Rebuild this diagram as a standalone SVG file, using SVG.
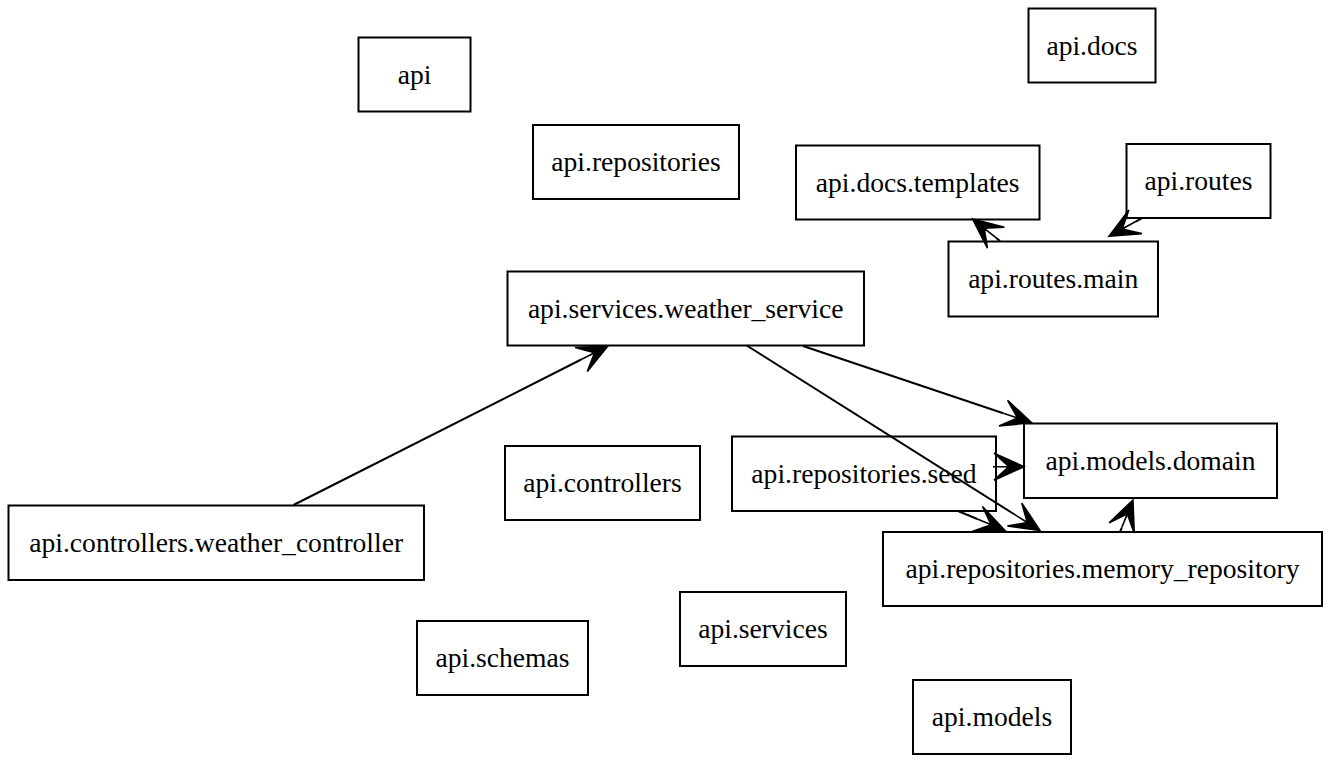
<svg xmlns="http://www.w3.org/2000/svg" width="1331" height="763" viewBox="0 0 1331 763">
<style>
.n rect{fill:#fff;stroke:#000;stroke-width:2}
.n text{font-family:'Liberation Serif','Times New Roman',serif;font-size:27.6px;text-anchor:middle;fill:#000}
.e path{fill:none;stroke:#000;stroke-width:2}
</style>
<defs>
<marker id="vee" markerUnits="userSpaceOnUse" viewBox="-1 -16 34 32" refX="0" refY="0" markerWidth="34" markerHeight="32" orient="auto" overflow="visible">
<path d="M30,0 L0,-13.5 L15,0 L0,13.5 Z M15,0 L0,0" fill="#000" stroke="#000" stroke-width="1.6" stroke-linejoin="miter"/>
</marker>
</defs>
<rect width="1331" height="763" fill="#fff"/>
<g id="api" class="n"><rect x="358.5" y="37.5" width="112" height="74"/><text x="414.5" y="83.5">api</text></g>
<g id="api.docs" class="n"><rect x="1028.5" y="8.5" width="127" height="74"/><text x="1092" y="54.5">api.docs</text></g>
<g id="api.repositories" class="n"><rect x="533" y="125" width="206" height="74"/><text x="636" y="171">api.repositories</text></g>
<g id="api.docs.templates" class="n"><rect x="796" y="145.5" width="243.5" height="74"/><text x="917.7" y="191.5">api.docs.templates</text></g>
<g id="api.routes" class="n"><rect x="1126.5" y="144" width="144" height="74"/><text x="1198.5" y="190">api.routes</text></g>
<g id="api.routes.main" class="n"><rect x="948.5" y="241.5" width="209.5" height="75"/><text x="1053.2" y="288">api.routes.main</text></g>
<g id="api.services.weather_service" class="n"><rect x="507.5" y="271.5" width="356.5" height="74"/><text x="685.7" y="317.5">api.services.weather_service</text></g>
<g id="api.models.domain" class="n"><rect x="1024" y="423.5" width="253" height="74.5"/><text x="1150.5" y="469.5">api.models.domain</text></g>
<g id="api.repositories.seed" class="n"><rect x="732" y="436.5" width="264" height="74.5"/><text x="864" y="482.5">api.repositories.seed</text></g>
<g id="api.repositories.memory_repository" class="n"><rect x="883" y="532" width="439" height="74"/><text x="1102.5" y="578">api.repositories.memory_repository</text></g>
<g id="api.controllers" class="n"><rect x="505" y="446" width="195" height="74"/><text x="602.5" y="492">api.controllers</text></g>
<g id="api.controllers.weather_controller" class="n"><rect x="8.5" y="505.5" width="415.5" height="74.5"/><text x="216.2" y="551.5">api.controllers.weather_controller</text></g>
<g id="api.schemas" class="n"><rect x="417" y="621" width="171" height="74"/><text x="502.5" y="667">api.schemas</text></g>
<g id="api.services" class="n"><rect x="680" y="592" width="166" height="74"/><text x="763" y="638">api.services</text></g>
<g id="api.models" class="n"><rect x="913" y="680" width="158" height="74"/><text x="992" y="726">api.models</text></g>
<g class="e">
<path d="M293.5,505 L581.2,359.5" marker-end="url(#vee)"/>
<path d="M803,346 L1003.3,413.2" marker-end="url(#vee)"/>
<path d="M746.7,345.5 L1014.6,514.5" marker-end="url(#vee)"/>
<path d="M993,466.7 L994,466.7" marker-end="url(#vee)"/>
<path d="M958,511 L977.3,519" marker-end="url(#vee)"/>
<path d="M1120,532 L1121.7,527.8" marker-end="url(#vee)"/>
<path d="M1141.7,218.3 L1135.3,221.8" marker-end="url(#vee)"/>
<path d="M1000,241 L995.9,237.7" marker-end="url(#vee)"/>
</g>
</svg>
